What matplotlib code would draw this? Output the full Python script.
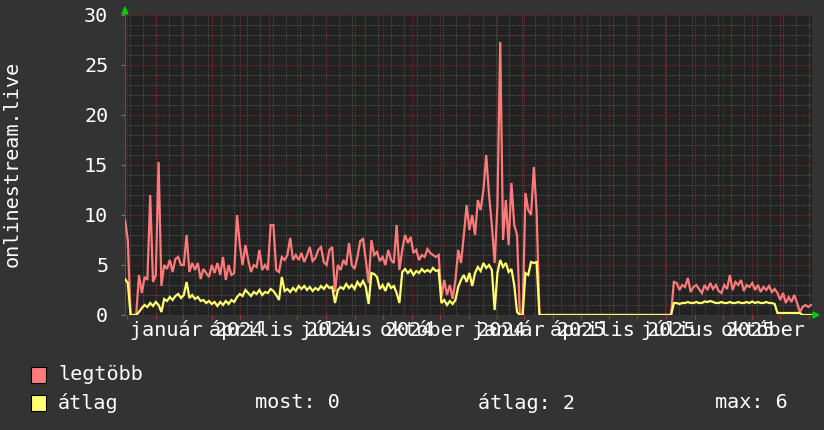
import numpy as np
import matplotlib
matplotlib.use("Agg")
import matplotlib.pyplot as plt
import matplotlib.transforms as mtransforms
import pandas as pd
from matplotlib.patches import Rectangle, Polygon

# ---------------- data ----------------
start = pd.Timestamp("2024-01-01")
first_day = -2          # first sample: 2023-12-30
step_days = 3

legtobb = [
    9.5, 7.5, 0, 0, 0, 4.0, 2.2, 3.8, 3.5, 12.0,
    3.3, 4.0, 15.3, 2.9, 5.0, 4.6, 5.5, 4.3, 5.6, 5.8,
    5.0, 5.0, 8.0, 4.3, 5.2, 4.5, 5.2, 3.6, 4.6, 4.2,
    3.8, 5.0, 4.2, 5.2, 4.0, 5.8, 3.5, 5.0, 4.0, 4.2,
    10.0, 7.0, 5.0, 7.0, 5.5, 4.3, 5.0, 4.8, 6.5, 4.5,
    5.0, 4.5, 9.0, 9.0, 4.5, 4.3, 5.8, 5.5, 6.0, 7.7,
    5.5, 6.0, 5.5, 6.2, 5.3, 6.0, 6.8, 5.4, 5.7, 6.5,
    6.8, 5.3, 5.0, 6.5, 6.8, 2.3, 5.0, 4.5, 5.5, 5.0,
    7.2, 5.0, 4.6, 5.8, 7.4, 7.6, 5.5, 3.2, 7.5, 6.0,
    6.3, 5.4, 5.8, 5.0, 6.5, 5.5, 5.2, 9.0, 4.5, 6.5,
    8.0, 7.2, 7.8, 6.2, 6.5, 5.5, 6.0, 5.8, 6.6, 6.2,
    6.0, 5.8, 6.0, 1.8, 3.5, 2.0, 3.0, 1.6, 3.5, 6.5,
    5.2, 8.0, 11.0, 8.5, 10.0, 8.0, 11.5, 10.5, 12.5, 16.0,
    12.0, 9.0, 5.2, 11.0, 27.3, 7.5, 11.5, 7.0, 13.2, 9.0,
    8.0, 0, 0, 12.2, 10.5, 10.0, 14.8, 10.3, 0, 0,
    0, 0, 0, 0, 0, 0, 0, 0, 0, 0,
    0, 0, 0, 0, 0, 0, 0, 0, 0, 0,
    0, 0, 0, 0, 0, 0, 0, 0, 0, 0,
    0, 0, 0, 0, 0, 0, 0, 0, 0, 0,
    0, 0, 0, 0, 0, 0, 3.3, 3.2, 2.5, 3.0,
    2.8, 3.7, 2.3, 2.8, 3.0, 2.6, 2.2, 3.0, 2.5, 3.2,
    2.6, 3.0, 2.4, 2.2, 3.0, 2.6, 4.0, 2.5, 3.3, 3.0,
    3.5, 2.4, 3.0, 2.8, 3.2, 2.5, 3.0, 2.3, 2.8, 2.5,
    2.9, 2.3, 2.6, 2.2, 1.5, 2.2, 1.2, 1.8, 1.3, 2.0,
    1.2, 0.3, 0.8, 1.0, 0.8, 1.0,
]

atlag = [
    3.6, 3.2, 0, 0, 0, 0.3, 0.7, 1.0, 0.8, 1.2,
    0.9, 1.3, 1.0, 0.3, 1.6, 1.4, 1.8, 1.5, 1.9, 2.1,
    1.7, 2.0, 3.3, 1.7, 2.0, 1.6, 1.8, 1.4, 1.5, 1.2,
    1.4, 1.1, 1.3, 0.9, 1.3, 1.0, 1.4, 1.1, 1.5, 1.3,
    1.8, 2.1, 1.9, 2.5, 2.2, 1.9, 2.3, 2.1, 2.5, 2.0,
    2.3, 2.2, 2.6, 2.4, 2.0, 1.5, 3.8, 2.4, 2.6, 2.3,
    2.7, 2.4, 2.9, 2.6, 2.9, 2.5, 2.8, 2.4, 2.7, 2.5,
    2.9, 2.6, 3.0, 2.7, 2.8, 1.2, 2.5, 2.8, 2.6, 3.1,
    2.7, 3.0, 2.6, 3.3, 2.9, 3.4, 2.8, 1.1, 4.2, 4.1,
    3.8, 2.6, 3.0, 2.4, 3.2, 2.7, 2.9, 2.2, 1.2, 4.3,
    4.6, 4.2, 4.5, 4.0, 4.4, 4.2, 4.6, 4.3, 4.5, 4.3,
    4.7, 4.4, 4.5, 1.2, 1.5, 1.0, 1.4, 1.1, 1.5, 2.8,
    3.5, 4.0, 3.3, 4.2, 2.9, 4.2, 4.8, 4.4, 5.2, 4.7,
    5.0, 4.5, 0.5, 4.2, 5.5, 4.8, 5.2, 4.3, 4.6, 3.0,
    0.3, 0, 0, 4.2, 4.0, 5.3, 5.2, 5.3, 0, 0,
    0, 0, 0, 0, 0, 0, 0, 0, 0, 0,
    0, 0, 0, 0, 0, 0, 0, 0, 0, 0,
    0, 0, 0, 0, 0, 0, 0, 0, 0, 0,
    0, 0, 0, 0, 0, 0, 0, 0, 0, 0,
    0, 0, 0, 0, 0, 0, 1.2, 1.2, 1.1, 1.2,
    1.2, 1.3, 1.2, 1.2, 1.3, 1.2, 1.2, 1.35, 1.3, 1.4,
    1.3, 1.2, 1.2, 1.3, 1.2, 1.2, 1.3, 1.2, 1.2, 1.3,
    1.2, 1.2, 1.3, 1.2, 1.35, 1.2, 1.3, 1.2, 1.2, 1.3,
    1.2, 1.2, 1.1, 0.2, 0.2, 0.2, 0.2, 0.2, 0.2, 0.2,
    0.2, 0.2, 0, 0, 0, 0,
]

x_labels = ["január 2024", "április 2024", "július 2024", "október 2024",
            "január 2025", "április 2025", "július 2025", "október 2025"]
y_ticks = [0, 5, 10, 15, 20, 25, 30]
y_title = "onlinestream.live"
legend_names = ["legtöbb", "átlag"]
stats = ["most: 0", "átlag: 2", "max: 6"]

# ---------------- style ----------------
BG = "#333333"
CANVAS = "#222222"
RED = "#ff7a7a"
YEL = "#ffff70"
FONT = "DejaVu Sans Mono"
FS = 14.5
plt.rcParams["font.family"] = [FONT, "DejaVu Sans"]

W, H = 824, 430
fig = plt.figure(figsize=(W / 100, H / 100), dpi=100, facecolor=BG)
ax = fig.add_axes([125 / W, 1 - 315 / H, 687 / W, 300 / H])
ax.set_facecolor(CANVAS)
ax.set_xlim(-2, 734)
ax.set_ylim(0, 30)
for s in ax.spines.values():
    s.set_visible(False)

days = first_day + step_days * np.arange(len(legtobb))

# grid
months = pd.date_range("2024-01-01", "2026-01-01", freq="MS")
month_off = np.asarray((months - start).days)
minor_off = np.arange(3, 734, 14)
for d in minor_off:
    ax.axvline(d, color="#4e4e4e", lw=0.8, ls=(0, (1, 1)), zorder=1)
for v in np.arange(1, 30, 1):
    if v % 5:
        ax.axhline(v, color="#4e4e4e", lw=0.8, ls=(0, (1, 1)), zorder=1)
for d in month_off:
    ax.axvline(d, color="#7a2a2a", lw=0.8, ls=(0, (1, 1)), zorder=1.5)
for v in y_ticks[1:]:
    ax.axhline(v, color="#7a2a2a", lw=0.8, ls=(0, (1, 1)), zorder=1.5)

# axes lines
ax.axhline(0, color="#666666", lw=0.8, zorder=2)
ax.axvline(-2, color="#555555", lw=0.8, zorder=2)

# data lines
ax.plot(days, legtobb, color=RED, lw=1.6, zorder=3, solid_joinstyle="miter")
ax.plot(days, atlag, color=YEL, lw=1.6, zorder=4, solid_joinstyle="miter")

# x ticks (month marks) and quarter labels
ax.set_xticks(month_off)
ax.set_xticklabels([])
ax.tick_params(axis="x", length=3, color="#aa3333", width=0.8)
adv_pts = 0.602 * FS
label_shift_days = 75
label_trans = mtransforms.blended_transform_factory(ax.transData, ax.transAxes)
for k, lab in enumerate(x_labels):
    xd = month_off[3 * k] + label_shift_days
    if k == len(x_labels) - 1:
        # last label: the year runs past the picture edge, only the month shows
        shown = lab.split(" ")[0]
        tr = mtransforms.offset_copy(label_trans, fig=fig,
                                     x=-len(lab) * adv_pts / 2, y=0,
                                     units="points")
        ax.text(xd, -0.05, shown, transform=tr, ha="left", va="center",
                fontsize=FS, color="white", fontfamily=FONT, clip_on=False)
    else:
        ax.text(xd, -0.05, lab, transform=label_trans, ha="center",
                va="center", fontsize=FS, color="white", fontfamily=FONT,
                clip_on=False)

ax.set_yticks(y_ticks)
ax.set_yticklabels([str(v) for v in y_ticks], fontsize=FS, color="white",
                   fontfamily=FONT)
ax.tick_params(axis="y", length=3, color="#777777", width=0.8, pad=9)

# y title
fig.text(12 / W, 1 - 164 / H, y_title, rotation=90, ha="center", va="center",
         fontsize=FS, color="white", fontfamily=FONT)

# arrows
fig.patches.append(Polygon([[122 / W, 1 - 14 / H], [128 / W, 1 - 14 / H],
                            [125 / W, 1 - 7 / H]], closed=True,
                           transform=fig.transFigure, color="#00cc00"))
fig.patches.append(Polygon([[813 / W, 1 - 312 / H], [813 / W, 1 - 318 / H],
                            [819 / W, 1 - 315 / H]], closed=True,
                           transform=fig.transFigure, color="#00cc00"))

# legend
rows_y = [375, 403]
for name, col, yy in zip(legend_names, [RED, YEL], rows_y):
    fig.patches.append(Rectangle((31 / W, 1 - (yy + 8) / H), 15 / W, 16 / H,
                                 transform=fig.transFigure, facecolor=col,
                                 edgecolor="black", lw=0.8))
    fig.text(58 / W, 1 - yy / H, name, ha="left", va="center", fontsize=FS,
             color="white", fontfamily=FONT)
for txt, xx in zip(stats, [255, 478, 715]):
    fig.text(xx / W, 1 - rows_y[1] / H, txt, ha="left", va="center",
             fontsize=FS, color="white", fontfamily=FONT)

fig.savefig("out.png", dpi=100, facecolor=BG)
